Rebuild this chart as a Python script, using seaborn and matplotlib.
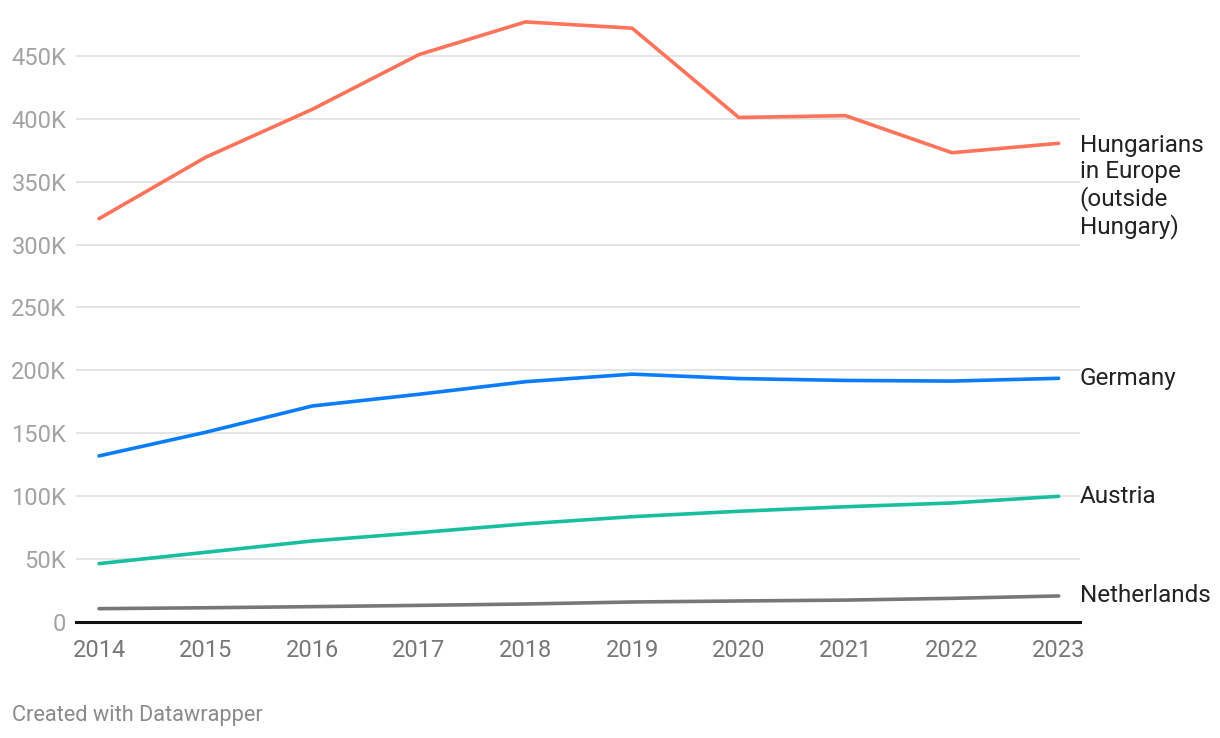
import matplotlib
matplotlib.use("Agg")
import matplotlib.pyplot as plt
import matplotlib.ticker as mticker
import pandas as pd
import seaborn as sns

YEARS = [2014, 2015, 2016, 2017, 2018, 2019, 2020, 2021, 2022, 2023]

HUNGARIANS_EUROPE = [320600, 369400, 407500, 451000, 477000, 472000, 401000, 402500, 373000, 380500]
GERMANY = [132000, 150800, 171700, 181000, 191000, 197000, 193500, 192000, 191500, 193700]
AUSTRIA = [46400, 55400, 64400, 71000, 78000, 83700, 88000, 91600, 94600, 99900]
NETHERLANDS = [10600, 11300, 12200, 13200, 14300, 15900, 16700, 17400, 18800, 20700]

SERIES_NAMES = ["Hungarians\nin Europe\n(outside\nHungary)", "Germany", "Austria", "Netherlands"]
SERIES_COLORS = ["#ff735a", "#0a7cfc", "#18bf9f", "#777777"]
Y_TICKS = [0, 50000, 100000, 150000, 200000, 250000, 300000, 350000, 400000, 450000]

rows = []
for name, values in zip(SERIES_NAMES, [HUNGARIANS_EUROPE, GERMANY, AUSTRIA, NETHERLANDS]):
    for year, v in zip(YEARS, values):
        rows.append({"year": year, "value": v, "series": name})
df = pd.DataFrame(rows)

sns.set_theme(style="white")
plt.rcParams['font.family'] = ['Roboto', 'DejaVu Sans']

fig = plt.figure(figsize=(12.2, 7.38), dpi=100)
ax = fig.add_axes([0.0623, 0.1572, 0.8227, 0.8225])

sns.lineplot(data=df, x="year", y="value", hue="series", hue_order=SERIES_NAMES,
             palette=SERIES_COLORS, linewidth=2.6, legend=False, ax=ax,
             solid_capstyle="round", solid_joinstyle="round")

ax.set_xlim(2013.784, 2023.197)
ax.set_ylim(0, 482500)
ax.set_yticks(Y_TICKS)
ax.yaxis.set_major_formatter(mticker.FuncFormatter(lambda v, p: "0" if v == 0 else f"{int(v/1000)}K"))
ax.set_xticks(YEARS)
ax.set_xticklabels([str(y) for y in YEARS])

ax.grid(axis="y", color="#e3e3e3", linewidth=1.3)
ax.set_axisbelow(True)
for s in ["top", "right", "left"]:
    ax.spines[s].set_visible(False)
ax.spines["bottom"].set_color("#111111")
ax.spines["bottom"].set_linewidth(2.2)
ax.spines["bottom"].set_zorder(5)

ax.tick_params(axis="y", length=0, pad=7, labelsize=17, labelcolor="#a3a3a3")
ax.tick_params(axis="x", length=0, pad=12, labelsize=17, labelcolor="#777777")
ax.set_xlabel("")
ax.set_ylabel("")

# labels at the end of each line
last_vals = [HUNGARIANS_EUROPE[-1], GERMANY[-1], AUSTRIA[-1], NETHERLANDS[-1]]
for name, v in zip(SERIES_NAMES, last_vals):
    if "\n" in name:
        ax.annotate(name, xy=(YEARS[-1], v), xytext=(15, 7), textcoords="offset points",
                    ha="left", va="top", fontsize=17.5, color="#222222",
                    linespacing=1.17, annotation_clip=False)
    else:
        ax.annotate(name, xy=(YEARS[-1], v), xytext=(15, 0), textcoords="offset points",
                    ha="left", va="center", fontsize=17.5, color="#222222",
                    annotation_clip=False)

fig.text(12 / 1220, 1 - 716 / 738, "Created with Datawrapper", fontsize=15.7,
         color="#8a8a8a", ha="left", va="center")

fig.savefig("out.png", dpi=100)
